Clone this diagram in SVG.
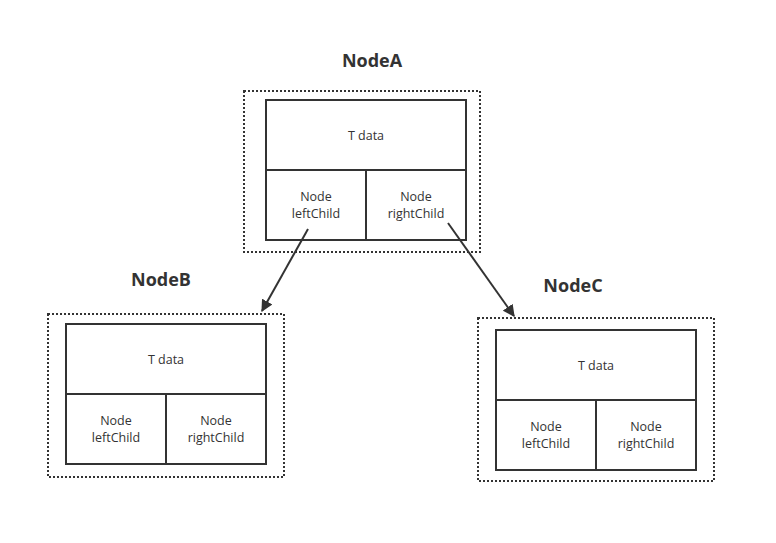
<svg xmlns="http://www.w3.org/2000/svg" width="776" height="543" viewBox="0 0 776 543">
<style>
.outer{fill:none;stroke:#333;stroke-width:2;stroke-dasharray:2 2}
.box{fill:#fff;stroke:#333;stroke-width:2}
.div{stroke:#333;stroke-width:2}
.t{font-family:"Open Sans","Noto Sans",sans-serif;font-size:12.5px;fill:#333;text-anchor:middle}
.title{font-family:"Open Sans","Noto Sans",sans-serif;font-size:18px;font-weight:bold;fill:#333;text-anchor:middle}
.edge{stroke:#333;stroke-width:2;fill:none;marker-end:url(#arr)}
</style>
<defs>
<marker id="arr" viewBox="0 0 10 10" refX="9" refY="5" markerWidth="6" markerHeight="6" markerUnits="strokeWidth" orient="auto">
<path d="M0,0 L10,5 L0,10 z" fill="#333"/>
</marker>
</defs>
<rect width="776" height="543" fill="#fff"/>
<g id="nodeA">
<text class="title" x="372" y="67">NodeA</text>
<rect class="outer" x="244" y="91" width="236" height="161"/>
<rect class="box" x="266" y="100" width="200" height="140"/>
<line class="div" x1="266" y1="170" x2="466" y2="170"/>
<line class="div" x1="366" y1="170" x2="366" y2="240"/>
<text class="t" x="366" y="140">T data</text>
<text class="t" x="316" y="200.5">Node</text>
<text class="t" x="316" y="217.5">leftChild</text>
<text class="t" x="416" y="200.5">Node</text>
<text class="t" x="416" y="217.5">rightChild</text>
</g>
<g id="nodeB">
<text class="title" x="161" y="286">NodeB</text>
<rect class="outer" x="48" y="314" width="236" height="163"/>
<rect class="box" x="66" y="324" width="200" height="140"/>
<line class="div" x1="66" y1="394" x2="266" y2="394"/>
<line class="div" x1="166" y1="394" x2="166" y2="464"/>
<text class="t" x="166" y="364">T data</text>
<text class="t" x="116" y="424.5">Node</text>
<text class="t" x="116" y="441.5">leftChild</text>
<text class="t" x="216" y="424.5">Node</text>
<text class="t" x="216" y="441.5">rightChild</text>
</g>
<g id="nodeC">
<text class="title" x="573" y="292">NodeC</text>
<rect class="outer" x="478" y="318" width="236" height="163"/>
<rect class="box" x="496" y="330" width="200" height="140"/>
<line class="div" x1="496" y1="400" x2="696" y2="400"/>
<line class="div" x1="596" y1="400" x2="596" y2="470"/>
<text class="t" x="596" y="370">T data</text>
<text class="t" x="546" y="430.5">Node</text>
<text class="t" x="546" y="447.5">leftChild</text>
<text class="t" x="646" y="430.5">Node</text>
<text class="t" x="646" y="447.5">rightChild</text>
</g>
<g id="connectors">
<line class="edge" x1="308" y1="229" x2="262" y2="311"/>
<line class="edge" x1="448" y1="223" x2="514" y2="316"/>
</g>
</svg>
